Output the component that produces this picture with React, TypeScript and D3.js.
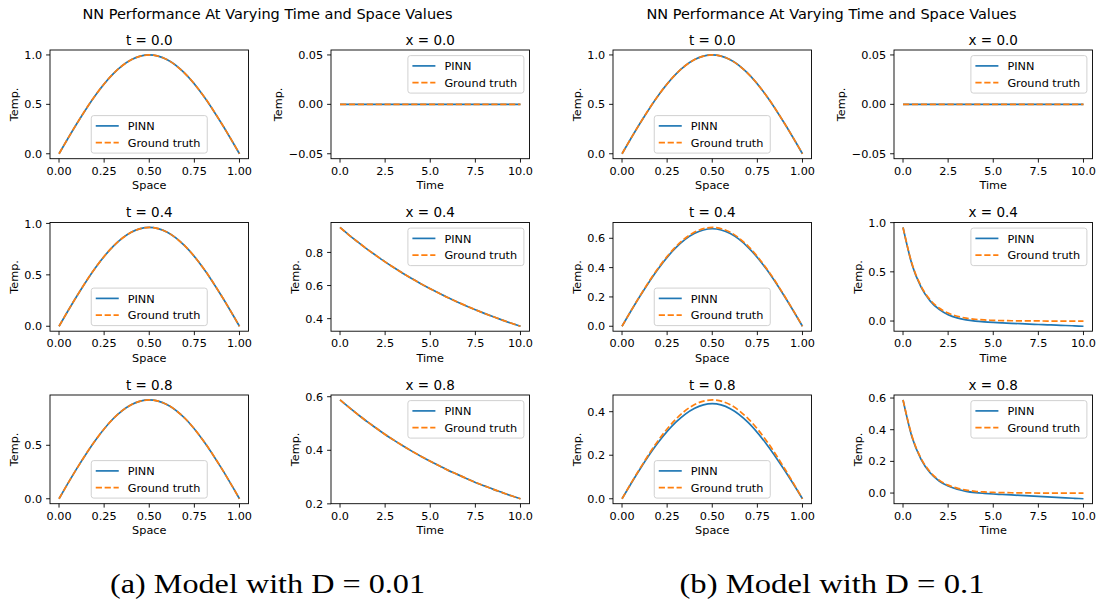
import React from 'react';
import * as d3 from 'd3';

// ---------- data ----------
const spaceGrid = [0, 0.1, 0.2, 0.3, 0.4, 0.5, 0.6, 0.7, 0.8, 0.9, 1.0];
const timeGrid = [0, 0.5, 1, 1.5, 2, 2.5, 3, 3.5, 4, 4.5, 5, 5.5, 6, 6.5, 7, 7.5, 8, 8.5, 9, 9.5, 10];

// Model (a): D = 0.01
const aT00Pinn = [0, 0.309, 0.588, 0.809, 0.951, 1.0, 0.951, 0.809, 0.588, 0.309, 0];
const aT00Truth = [0, 0.309, 0.588, 0.809, 0.951, 1.0, 0.951, 0.809, 0.588, 0.309, 0];
const aT04Pinn = [0, 0.297, 0.565, 0.777, 0.914, 0.961, 0.914, 0.777, 0.565, 0.297, 0];
const aT04Truth = [0, 0.297, 0.565, 0.777, 0.914, 0.961, 0.914, 0.777, 0.565, 0.297, 0];
const aT08Pinn = [0, 0.286, 0.543, 0.748, 0.879, 0.924, 0.879, 0.748, 0.543, 0.286, 0];
const aT08Truth = [0, 0.286, 0.543, 0.748, 0.879, 0.924, 0.879, 0.748, 0.543, 0.286, 0];
const aX00Pinn = [0, 0, 0, 0, 0, 0, 0, 0, 0, 0, 0, 0, 0, 0, 0, 0, 0, 0, 0, 0, 0];
const aX00Truth = [0, 0, 0, 0, 0, 0, 0, 0, 0, 0, 0, 0, 0, 0, 0, 0, 0, 0, 0, 0, 0];
const aX04Pinn = [0.951, 0.905, 0.862, 0.820, 0.781, 0.743, 0.707, 0.673, 0.641, 0.610, 0.581, 0.553, 0.526, 0.501, 0.477, 0.454, 0.432, 0.411, 0.391, 0.372, 0.354];
const aX04Truth = [0.951, 0.905, 0.862, 0.820, 0.781, 0.743, 0.707, 0.673, 0.641, 0.610, 0.581, 0.553, 0.526, 0.501, 0.477, 0.454, 0.432, 0.411, 0.391, 0.372, 0.354];
const aX08Pinn = [0.588, 0.560, 0.533, 0.507, 0.483, 0.459, 0.437, 0.416, 0.396, 0.377, 0.359, 0.342, 0.325, 0.310, 0.295, 0.280, 0.267, 0.254, 0.242, 0.230, 0.219];
const aX08Truth = [0.588, 0.560, 0.533, 0.507, 0.483, 0.459, 0.437, 0.416, 0.396, 0.377, 0.359, 0.342, 0.325, 0.310, 0.295, 0.280, 0.267, 0.254, 0.242, 0.230, 0.219];

// Model (b): D = 0.1
const bT00Pinn = [0, 0.309, 0.588, 0.809, 0.951, 1.0, 0.951, 0.809, 0.588, 0.309, 0];
const bT00Truth = [0, 0.309, 0.588, 0.809, 0.951, 1.0, 0.951, 0.809, 0.588, 0.309, 0];
const bT04Pinn = [0, 0.206, 0.391, 0.538, 0.632, 0.665, 0.632, 0.537, 0.390, 0.205, 0];
const bT04Truth = [0, 0.208, 0.396, 0.545, 0.641, 0.674, 0.641, 0.545, 0.396, 0.208, 0];
const bT08Pinn = [0, 0.137, 0.258, 0.353, 0.415, 0.437, 0.414, 0.350, 0.252, 0.132, 0];
const bT08Truth = [0, 0.140, 0.267, 0.367, 0.432, 0.454, 0.432, 0.367, 0.267, 0.140, 0];
const bX00Pinn = [0, 0, 0, 0, 0, 0, 0, 0, 0, 0, 0, 0, 0, 0, 0, 0, 0, 0, 0, 0, 0];
const bX00Truth = [0, 0, 0, 0, 0, 0, 0, 0, 0, 0, 0, 0, 0, 0, 0, 0, 0, 0, 0, 0, 0];
const bX04Pinn = [0.951, 0.572, 0.345, 0.205, 0.118, 0.065, 0.032, 0.012, 0.0, -0.008, -0.014, -0.019, -0.023, -0.027, -0.031, -0.035, -0.038, -0.042, -0.045, -0.049, -0.053];
const bX04Truth = [0.951, 0.581, 0.355, 0.216, 0.132, 0.081, 0.049, 0.030, 0.018, 0.011, 0.007, 0.004, 0.003, 0.002, 0.001, 0.001, 0.0, 0.0, 0.0, 0.0, 0.0];
const bX08Pinn = [0.588, 0.352, 0.213, 0.128, 0.076, 0.044, 0.024, 0.011, 0.003, -0.002, -0.006, -0.009, -0.012, -0.015, -0.018, -0.021, -0.024, -0.027, -0.030, -0.033, -0.036];
const bX08Truth = [0.588, 0.359, 0.219, 0.134, 0.082, 0.050, 0.031, 0.019, 0.011, 0.007, 0.004, 0.003, 0.002, 0.001, 0.001, 0.0, 0.0, 0.0, 0.0, 0.0, 0.0];

// tick labels
const spaceTicks = [0, 0.25, 0.5, 0.75, 1.0];
const spaceTickLabels = ['0.00', '0.25', '0.50', '0.75', '1.00'];
const timeTicks = [0, 2.5, 5, 7.5, 10];
const timeTickLabels = ['0.0', '2.5', '5.0', '7.5', '10.0'];

const seriesNames = ['PINN', 'Ground truth'];
const suptitleText = 'NN Performance At Varying Time and Space Values';
const captions = ['(a) Model with D = 0.01', '(b) Model with D = 0.1'];

type Panel = {
  col: number;
  row: number;
  title: string;
  kind: 'space' | 'time';
  pinn: number[];
  truth: number[];
  yTicks: number[];
  yLabels: string[];
};

const panels: Panel[] = [
  { col: 0, row: 0, title: 't = 0.0', kind: 'space', pinn: aT00Pinn, truth: aT00Truth, yTicks: [0, 0.5, 1.0], yLabels: ['0.0', '0.5', '1.0'] },
  { col: 1, row: 0, title: 'x = 0.0', kind: 'time', pinn: aX00Pinn, truth: aX00Truth, yTicks: [-0.05, 0, 0.05], yLabels: ['\u22120.05', '0.00', '0.05'] },
  { col: 0, row: 1, title: 't = 0.4', kind: 'space', pinn: aT04Pinn, truth: aT04Truth, yTicks: [0, 0.5, 1.0], yLabels: ['0.0', '0.5', '1.0'] },
  { col: 1, row: 1, title: 'x = 0.4', kind: 'time', pinn: aX04Pinn, truth: aX04Truth, yTicks: [0.4, 0.6, 0.8], yLabels: ['0.4', '0.6', '0.8'] },
  { col: 0, row: 2, title: 't = 0.8', kind: 'space', pinn: aT08Pinn, truth: aT08Truth, yTicks: [0, 0.5], yLabels: ['0.0', '0.5'] },
  { col: 1, row: 2, title: 'x = 0.8', kind: 'time', pinn: aX08Pinn, truth: aX08Truth, yTicks: [0.2, 0.4, 0.6], yLabels: ['0.2', '0.4', '0.6'] },
  { col: 2, row: 0, title: 't = 0.0', kind: 'space', pinn: bT00Pinn, truth: bT00Truth, yTicks: [0, 0.5, 1.0], yLabels: ['0.0', '0.5', '1.0'] },
  { col: 3, row: 0, title: 'x = 0.0', kind: 'time', pinn: bX00Pinn, truth: bX00Truth, yTicks: [-0.05, 0, 0.05], yLabels: ['\u22120.05', '0.00', '0.05'] },
  { col: 2, row: 1, title: 't = 0.4', kind: 'space', pinn: bT04Pinn, truth: bT04Truth, yTicks: [0, 0.2, 0.4, 0.6], yLabels: ['0.0', '0.2', '0.4', '0.6'] },
  { col: 3, row: 1, title: 'x = 0.4', kind: 'time', pinn: bX04Pinn, truth: bX04Truth, yTicks: [0, 0.5, 1.0], yLabels: ['0.0', '0.5', '1.0'] },
  { col: 2, row: 2, title: 't = 0.8', kind: 'space', pinn: bT08Pinn, truth: bT08Truth, yTicks: [0, 0.2, 0.4], yLabels: ['0.0', '0.2', '0.4'] },
  { col: 3, row: 2, title: 'x = 0.8', kind: 'time', pinn: bX08Pinn, truth: bX08Truth, yTicks: [0, 0.2, 0.4, 0.6], yLabels: ['0.0', '0.2', '0.4', '0.6'] },
];

// ---------- layout ----------
const W = 1103;
const H = 605;
const colLeft = [50, 331, 613, 894];
const axW = 198.5;
const rowTop = [50, 222.5, 395];
const axH = 108.7;
const FS = 11.25;
const TFS = 13.5;
const SFS = 14.5;
const FONT = "'DejaVu Sans', sans-serif";
const BLUE = '#1f77b4';
const ORANGE = '#ff7f0e';
const LW = 1.69;
const TICK = 3.9;
const PAD = 3.9;

const charW: Record<string, number> = { '0': 0.636, '1': 0.636, '2': 0.636, '3': 0.636, '4': 0.636, '5': 0.636, '6': 0.636, '7': 0.636, '8': 0.636, '9': 0.636, '.': 0.318, '\u2212': 0.838 };
const textW = (s: string) => s.split('').reduce((a, c) => a + (charW[c] ?? 0.6), 0) * FS;

function yDomain(a: number[], b: number[]): [number, number] {
  const all = a.concat(b);
  const mn = d3.min(all) as number;
  const mx = d3.max(all) as number;
  if (mx - mn < 1e-9) return [mn - 0.055, mx + 0.055];
  const m = (mx - mn) * 0.05;
  return [mn - m, mx + m];
}

const PanelView: React.FC<{ p: Panel }> = ({ p }) => {
  const x0 = colLeft[p.col];
  const y0 = rowTop[p.row];
  const xs = p.kind === 'space' ? spaceGrid : timeGrid;
  const xDom: [number, number] = p.kind === 'space' ? [-0.05, 1.05] : [-0.5, 10.5];
  const xTicks = p.kind === 'space' ? spaceTicks : timeTicks;
  const xLabels = p.kind === 'space' ? spaceTickLabels : timeTickLabels;
  const xScale = d3.scaleLinear().domain(xDom).range([x0, x0 + axW]);
  const yScale = d3.scaleLinear().domain(yDomain(p.pinn, p.truth)).range([y0 + axH, y0]);
  const line = d3
    .line<number>()
    .x((_, i) => xScale(xs[i]))
    .y((d) => yScale(d))
    .curve(d3.curveMonotoneX);
  const maxLabW = d3.max(p.yLabels.map(textW)) as number;
  const yLabelX = x0 - TICK - PAD - maxLabW - 4.5 - 2.2;
  const bottom = y0 + axH;

  // legend
  const lw = 116;
  const lh = 37.5;
  const upper = p.kind === 'time';
  const lx = upper ? x0 + axW - 5.6 - lw : x0 + axW / 2 - lw / 2;
  const ly = upper ? y0 + 5.6 : bottom - 5.6 - lh;
  const rows = [ly + 10.3, ly + 27];

  return (
    <g>
      <path d={line(p.pinn) || ''} fill="none" stroke={BLUE} strokeWidth={LW} />
      <path d={line(p.truth) || ''} fill="none" stroke={ORANGE} strokeWidth={LW} strokeDasharray="6.2 2.7" />
      <rect x={x0} y={y0} width={axW} height={axH} fill="none" stroke="#000" strokeWidth={0.9} />
      {xTicks.map((t, i) => (
        <g key={'x' + i}>
          <line x1={xScale(t)} x2={xScale(t)} y1={bottom} y2={bottom + TICK} stroke="#000" strokeWidth={0.9} />
          <text x={xScale(t)} y={bottom + 16} textAnchor="middle" fontSize={FS} fontFamily={FONT}>
            {xLabels[i]}
          </text>
        </g>
      ))}
      {p.yTicks.map((t, i) => (
        <g key={'y' + i}>
          <line x1={x0 - TICK} x2={x0} y1={yScale(t)} y2={yScale(t)} stroke="#000" strokeWidth={0.9} />
          <text x={x0 - TICK - PAD} y={yScale(t) + 4.1} textAnchor="end" fontSize={FS} fontFamily={FONT}>
            {p.yLabels[i]}
          </text>
        </g>
      ))}
      <text x={x0 + axW / 2} y={bottom + 30.5} textAnchor="middle" fontSize={FS} fontFamily={FONT}>
        {p.kind === 'space' ? 'Space' : 'Time'}
      </text>
      <text
        transform={`translate(${yLabelX},${y0 + axH / 2}) rotate(-90)`}
        textAnchor="middle"
        fontSize={FS}
        fontFamily={FONT}
      >
        Temp.
      </text>
      <text x={x0 + axW / 2} y={y0 - 5.2} textAnchor="middle" fontSize={TFS} fontFamily={FONT}>
        {p.title}
      </text>
      <rect x={lx} y={ly} width={lw} height={lh} rx={2.5} fill="#fff" fillOpacity={0.8} stroke="#cccccc" strokeWidth={0.9} />
      <line x1={lx + 4.5} x2={lx + 27.5} y1={rows[0]} y2={rows[0]} stroke={BLUE} strokeWidth={LW} />
      <line x1={lx + 4.5} x2={lx + 27.5} y1={rows[1]} y2={rows[1]} stroke={ORANGE} strokeWidth={LW} strokeDasharray="6.2 2.7" />
      {seriesNames.map((n, i) => (
        <text key={n} x={lx + 36.5} y={rows[i] + 4.1} fontSize={FS} fontFamily={FONT}>
          {n}
        </text>
      ))}
    </g>
  );
};

export default function App() {
  return (
    <div style={{ position: 'absolute', left: 0, top: 0, width: W, height: H, background: '#fff' }}>
      <svg width={W} height={H} viewBox={`0 0 ${W} ${H}`} style={{ display: 'block' }}>
        <rect x={0} y={0} width={W} height={H} fill="#fff" />
        {[267.5, 831.5].map((cx, i) => (
          <text key={'s' + i} x={cx} y={18.5} textAnchor="middle" fontSize={SFS} fontFamily={FONT}>
            {suptitleText}
          </text>
        ))}
        {panels.map((p, i) => (
          <PanelView key={i} p={p} />
        ))}
        {[267.5, 832].map((cx, i) => (
          <text
            key={'c' + i}
            x={cx}
            y={593}
            textAnchor="middle"
            fontSize={26.5}
            fontFamily="'Liberation Serif', 'DejaVu Serif', serif"
            textLength={i === 0 ? 315 : 305}
            lengthAdjust="spacingAndGlyphs"
          >
            {captions[i]}
          </text>
        ))}
      </svg>
    </div>
  );
}
